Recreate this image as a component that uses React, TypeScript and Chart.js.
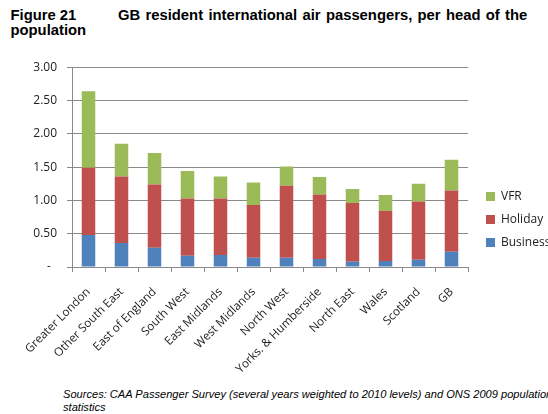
import React, { useEffect, useRef } from "react";
import { Chart, registerables } from "chart.js";

Chart.register(...registerables);

const categories = [
  "Greater London",
  "Other South East",
  "East of England",
  "South West",
  "East Midlands",
  "West Midlands",
  "North West",
  "Yorks. & Humberside",
  "North East",
  "Wales",
  "Scotland",
  "GB",
];

const business = [0.48, 0.36, 0.29, 0.17, 0.18, 0.14, 0.14, 0.12, 0.08, 0.09, 0.11, 0.23];
const holiday = [1.01, 1.0, 0.95, 0.86, 0.85, 0.79, 1.08, 0.97, 0.88, 0.75, 0.875, 0.92];
const vfr = [1.15, 0.49, 0.47, 0.41, 0.33, 0.34, 0.29, 0.26, 0.21, 0.24, 0.265, 0.46];

const yTicks = [0, 0.5, 1, 1.5, 2, 2.5, 3];

const titleLabel = "Figure 21";
const titleText = "GB resident international air passengers, per head of the";
const titleLine2 = "population";
const sourceLine1 =
  "Sources: CAA Passenger Survey (several years weighted to 2010 levels) and ONS 2009 population";
const sourceLine2 = "statistics";

const legendShift = {
  id: "legendShift",
  afterLayout(chart: any) {
    const l = chart.legend;
    if (!l) return;
    l.left += 7;
    l.right += 7;
    l.top -= 2;
    l.bottom -= 2;
  },
};

export default function App() {
  const ref = useRef<HTMLCanvasElement | null>(null);

  useEffect(() => {
    if (!ref.current) return;
    const font = { family: "'Open Sans', sans-serif", size: 12 };
    const xFont = { family: "'Open Sans', sans-serif", size: 11.7 };
    const grid = "#8a8a8a";
    const chart = new Chart(ref.current, {
      type: "bar",
      data: {
        labels: categories,
        datasets: [
          { label: "Business", data: business, backgroundColor: "#4F81BD" },
          { label: "Holiday", data: holiday, backgroundColor: "#C0504D" },
          { label: "VFR", data: vfr, backgroundColor: "#9BBB59" },
        ],
      },
      options: {
        animation: false,
        responsive: false,
        maintainAspectRatio: false,
        datasets: { bar: { barPercentage: 0.41, categoryPercentage: 1 } },
        layout: { padding: { top: 13, right: 0, bottom: 0, left: 0 } },
        plugins: {
          tooltip: { enabled: false },
          title: { display: false },
          legend: {
            position: "right",
            reverse: true,
            maxWidth: 80,
            labels: {
              boxWidth: 9,
              boxHeight: 9,
              padding: 11,
              color: "#222",
              font,
            },
          },
        },
        scales: {
          x: {
            stacked: true,
            grid: {
              display: true,
              drawOnChartArea: false,
              drawTicks: true,
              tickLength: 5,
              color: grid,
              offset: true,
            },
            border: { display: true, color: grid },
            ticks: {
              minRotation: 45,
              maxRotation: 45,
              autoSkip: false,
              padding: 13,
              color: "#222",
              font: xFont,
            },
            afterFit: (s: any) => {
              s.height = 113;
            },
          },
          y: {
            stacked: true,
            min: 0,
            max: 3,
            afterBuildTicks: (s: any) => {
              s.ticks = yTicks.map((v) => ({ value: v }));
            },
            grid: { color: grid, tickLength: 5, drawTicks: true },
            border: { display: true, color: grid },
            ticks: {
              padding: 10,
              color: "#222",
              font,
              callback: (v: any) => (Number(v) === 0 ? "-  " : Number(v).toFixed(2)),
            },
            afterFit: (s: any) => {
              s.width = 72;
            },
          },
        },
      },
      plugins: [legendShift],
    });
    return () => chart.destroy();
  }, []);

  const titleFont: React.CSSProperties = {
    fontFamily: "'Liberation Sans', Arial, sans-serif",
    fontWeight: "bold",
    fontSize: "14.8px",
    lineHeight: "15px",
    color: "#000",
    whiteSpace: "nowrap",
  };

  return (
    <div
      style={{
        position: "fixed",
        left: 0,
        top: 0,
        width: 548,
        height: 414,
        overflow: "hidden",
        background: "#fff",
      }}
    >
      <div style={{ position: "absolute", left: 10.5, top: 8, ...titleFont }}>
        <span style={{ display: "inline-block", width: 107.5 }}>{titleLabel}</span>
        <span style={{ wordSpacing: "1.2px" }}>{titleText}</span>
        <br />
        <span>{titleLine2}</span>
      </div>
      <canvas
        ref={ref}
        width={548}
        height={330}
        style={{ position: "absolute", left: 0, top: 50, width: 548, height: 330 }}
      />
      <div
        style={{
          position: "absolute",
          left: 63,
          top: 387.7,
          fontFamily: "'Liberation Sans', Arial, sans-serif",
          fontStyle: "italic",
          fontSize: "11.1px",
          lineHeight: "13px",
          color: "#000",
          whiteSpace: "nowrap",
        }}
      >
        {sourceLine1}
        <br />
        {sourceLine2}
      </div>
    </div>
  );
}
